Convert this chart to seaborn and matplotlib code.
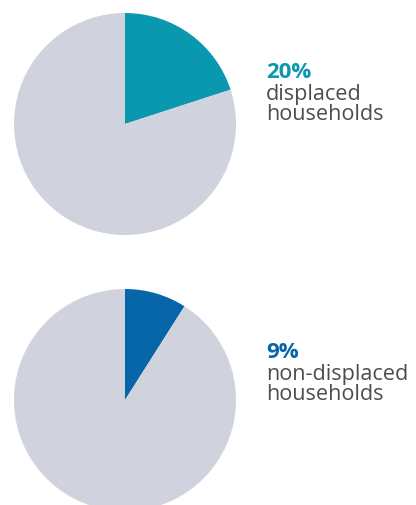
import matplotlib.pyplot as plt
import seaborn as sns

# shares of households (percent)
groups = [['displaced', 'households'], ['non-displaced', 'households']]
shares = [20, 9]
highlight_colors = ['#0a98b0', '#0765a9']
rest_color = '#d0d2de'
text_color = '#4a4d52'

sns.set_theme(style='white')
plt.rcParams['font.family'] = ['Open Sans', 'DejaVu Sans']

W, H = 416, 505
fig = plt.figure(figsize=(W / 100, H / 100), dpi=100)

# pie centres in pixels (x, y from top), radius in pixels
centres = [(125, 124), (125, 400)]
radius = 111
baselines = [78, 358]   # baseline of the percentage text
text_x = 266

for share, lines, col, (cx, cy), by in zip(shares, groups, highlight_colors, centres, baselines):
    ax = fig.add_axes([(cx - radius) / W, 1 - (cy + radius) / H,
                       2 * radius / W, 2 * radius / H])
    ax.pie([share, 100 - share], colors=[col, rest_color], startangle=90,
           counterclock=False, radius=1, wedgeprops=dict(linewidth=0))
    ax.set_xlim(-1, 1)
    ax.set_ylim(-1, 1)
    ax.set_aspect('equal')
    ax.axis('off')

    fig.text(text_x / W, 1 - by / H, f'{share}%', color=col, fontsize=16,
             fontweight='bold', va='baseline', ha='left')
    for i, line in enumerate(lines):
        fig.text(text_x / W, 1 - (by + 22 + 20 * i) / H, line, color=text_color,
                 fontsize=15.6, va='baseline', ha='left')

fig.savefig('out.png', dpi=100)
